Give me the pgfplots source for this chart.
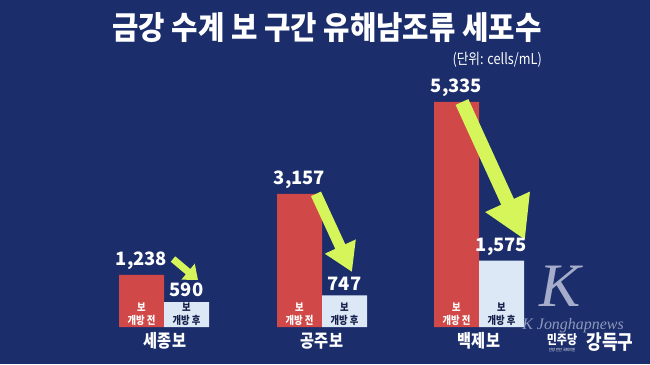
\documentclass[border=0pt]{standalone}
\usepackage{fontspec}
\usepackage{pgfplots}
\pgfplotsset{compat=1.18}
\usetikzlibrary{arrows.meta}
\setmainfont{Liberation Sans}
\newfontfamily\kr[FakeStretch=0.85]{Noto Sans CJK KR}
\newfontfamily\kt[FakeStretch=0.9]{Noto Sans CJK KR}
\newfontfamily\kn{Noto Sans CJK KR}
\newfontfamily\wm{Liberation Serif}
\definecolor{bg}{HTML}{1B2D6B}
\definecolor{barred}{HTML}{D14848}
\definecolor{barblue}{HTML}{DDE8F7}
\definecolor{lime}{HTML}{D6F55A}
\definecolor{darktxt}{HTML}{15204A}
\definecolor{wmgray}{HTML}{B4BCD6}
\begin{document}
\begin{tikzpicture}[x=1bp,y=1bp]
\fill[bg] (0,0) rectangle (650,364);
\begin{axis}[at={(0,0)}, anchor=south west, scale only axis,
  width=650bp, height=364bp,
  xmin=0, xmax=650, ymin=-877.3, ymax=7753.6,
  hide axis, clip=false,
  ybar, bar width=45,
  nodes near coords={\pgfmathprintnumber[assume math mode=true, 1000 sep={,}]{\pgfplotspointmeta}},
  nodes near coords style={font=\kn\bfseries\fontsize{18.5}{18.5}\selectfont, text=white, inner sep=0pt, anchor=south, yshift=5bp},
]
\addplot[fill=barred, draw=none, bar shift=-22.5] coordinates {(164,1238) (322,3157) (479,5335)};
\addplot[fill=barblue, draw=none, bar shift=22.5] coordinates {(164,590) (322,747) (479,1575)};
% inside labels
\foreach \xx in {141.5,299.5,456.5}{
  \edef\tmp{\noexpand\node[text=white, font=\noexpand\kr\noexpand\bfseries\noexpand\fontsize{11}{11}\noexpand\selectfont] at (axis cs:\xx,474) {보};
  \noexpand\node[text=white, font=\noexpand\kr\noexpand\bfseries\noexpand\fontsize{11}{11}\noexpand\selectfont] at (axis cs:\xx,166) {개방 전};}
  \tmp
}
\foreach \xx in {186.5,344.5,501.5}{
  \edef\tmp{\noexpand\node[text=darktxt, font=\noexpand\kr\noexpand\bfseries\noexpand\fontsize{11}{11}\noexpand\selectfont] at (axis cs:\xx,474) {보};
  \noexpand\node[text=darktxt, font=\noexpand\kr\noexpand\bfseries\noexpand\fontsize{11}{11}\noexpand\selectfont] at (axis cs:\xx,166) {개방 후};}
  \tmp
}
% category labels
\node[text=white, font=\kr\bfseries\fontsize{18}{18}\selectfont] at (axis cs:165,-332) {세종보};
\node[text=white, font=\kr\bfseries\fontsize{18}{18}\selectfont] at (axis cs:322,-332) {공주보};
\node[text=white, font=\kr\bfseries\fontsize{18}{18}\selectfont] at (axis cs:479,-332) {백제보};
% arrows
\draw[lime, line width=7bp, -{Triangle[width=20bp,length=13bp]}] (axis cs:173,1612) -- (axis cs:198,1114);
\draw[lime, line width=11bp, -{Triangle[width=32bp,length=28bp]}] (axis cs:316,3157) -- (axis cs:352,1304);
\draw[lime, line width=14bp, -{Triangle[width=46bp,length=42bp]}] (axis cs:462,5335) -- (axis cs:525,2063);
\end{axis}
% title
\node[text=white, font=\kt\bfseries\fontsize{32}{32}\selectfont] at (327,336) {금강 수계 보 구간 유해남조류 세포수};
\node[text=white, anchor=east, inner sep=0pt, font=\kr\fontsize{15}{15}\selectfont] at (542,304) {(단위: cells/mL)};
% watermark
\node[text=wmgray, opacity=0.9, font=\wm\itshape\fontsize{62}{62}\selectfont] at (560,78) {K};
\node[text=wmgray, opacity=0.75, inner sep=0pt, font=\wm\itshape\fontsize{16}{16}\selectfont] at (573,38) {K Jonghapnews};
\node[text=white, inner sep=0pt, font=\kr\bfseries\fontsize{13}{13}\selectfont] at (562,24) {민주당};
\node[text=white, inner sep=0pt, font=\kr\fontsize{4}{4}\selectfont] at (562,14) {안양 만안 국회의원};
\node[text=white, inner sep=0pt, font=\kr\bfseries\fontsize{20}{20}\selectfont] at (610,22) {강득구};
\pgfresetboundingbox
\useasboundingbox (0,0) rectangle (650,364);
\end{tikzpicture}
\end{document}
